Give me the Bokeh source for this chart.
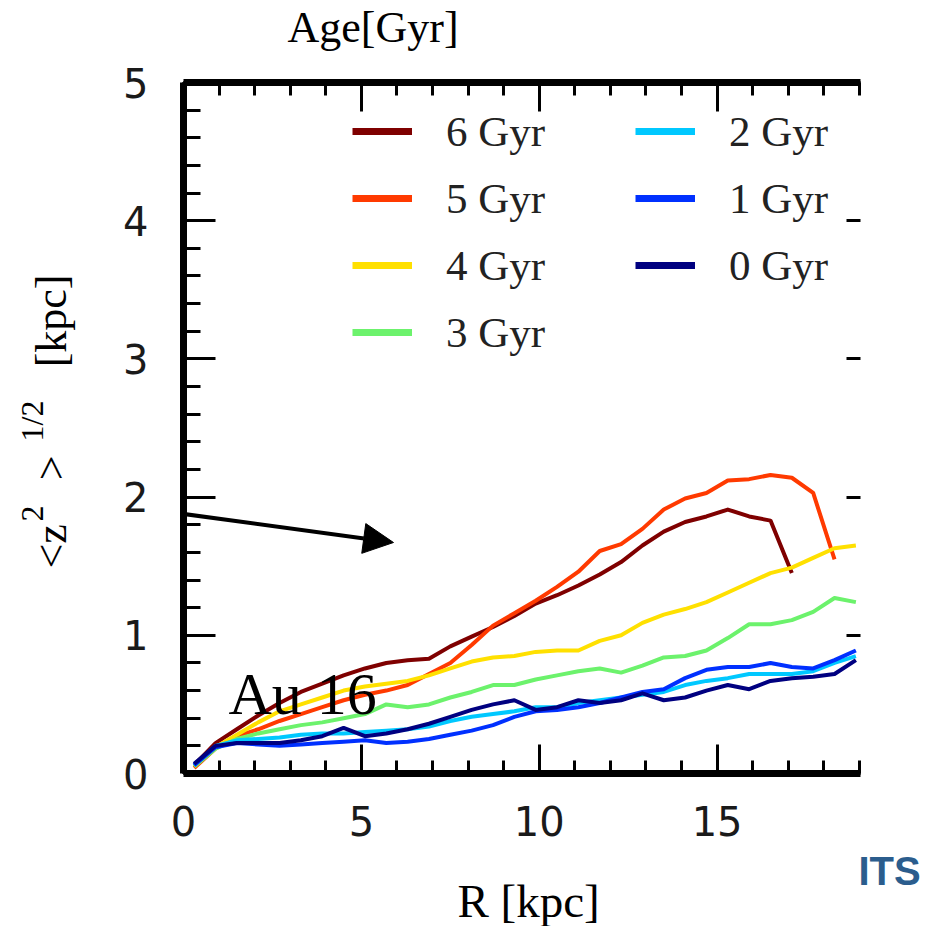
from bokeh.plotting import figure
from bokeh.models import (Range1d, LinearAxis, SingleIntervalTicker, Legend, LegendItem,
                          Label, Arrow, NormalHead, CustomLabelingPolicy)
from bokeh.embed import file_html
from bokeh.resources import INLINE
import math

# Radial bins [kpc]
radius = [0.3, 0.9, 1.5, 2.1, 2.7, 3.3, 3.9, 4.5, 5.1, 5.7, 6.3, 6.9, 7.5, 8.1, 8.7, 9.3,
          9.9, 10.5, 11.1, 11.7, 12.3, 12.9, 13.5, 14.1, 14.7, 15.3, 15.9, 16.5, 17.1,
          17.7, 18.3, 18.9]

# Vertical thickness <z^2>^(1/2) [kpc] per stellar age
z_6gyr = [0.06, 0.22, 0.32, 0.42, 0.51, 0.59, 0.65, 0.71, 0.76, 0.80, 0.82, 0.83, 0.92,
          0.99, 1.06, 1.14, 1.23, 1.29, 1.36, 1.44, 1.53, 1.65, 1.75, 1.82, 1.86, 1.91,
          1.86, 1.83, 1.45]
z_5gyr = [0.04, 0.18, 0.27, 0.32, 0.38, 0.43, 0.48, 0.53, 0.57, 0.60, 0.64, 0.72, 0.80,
          0.93, 1.07, 1.16, 1.25, 1.35, 1.46, 1.61, 1.66, 1.77, 1.91, 1.99, 2.03, 2.12,
          2.13, 2.16, 2.14, 2.03, 1.55]
z_4gyr = [0.05, 0.19, 0.28, 0.37, 0.45, 0.50, 0.55, 0.60, 0.63, 0.65, 0.67, 0.71, 0.76,
          0.81, 0.84, 0.85, 0.88, 0.89, 0.89, 0.96, 1.00, 1.09, 1.15, 1.19, 1.24, 1.31,
          1.38, 1.45, 1.49, 1.56, 1.63, 1.65]
z_3gyr = [0.05, 0.18, 0.25, 0.29, 0.32, 0.35, 0.37, 0.40, 0.43, 0.50, 0.48, 0.50, 0.55,
          0.59, 0.64, 0.64, 0.68, 0.71, 0.74, 0.76, 0.73, 0.78, 0.84, 0.85, 0.89, 0.98,
          1.08, 1.08, 1.11, 1.17, 1.27, 1.24]
z_2gyr = [0.06, 0.20, 0.24, 0.25, 0.26, 0.28, 0.29, 0.29, 0.30, 0.31, 0.32, 0.34, 0.38,
          0.41, 0.43, 0.45, 0.48, 0.48, 0.51, 0.53, 0.55, 0.57, 0.59, 0.64, 0.67, 0.69,
          0.72, 0.72, 0.72, 0.74, 0.80, 0.85]
z_1gyr = [0.06, 0.19, 0.22, 0.21, 0.20, 0.21, 0.22, 0.23, 0.24, 0.22, 0.23, 0.25, 0.28,
          0.31, 0.35, 0.41, 0.45, 0.46, 0.48, 0.51, 0.55, 0.59, 0.61, 0.69, 0.75, 0.77,
          0.77, 0.80, 0.77, 0.76, 0.82, 0.89]
z_0gyr = [0.07, 0.20, 0.22, 0.22, 0.22, 0.24, 0.27, 0.33, 0.27, 0.29, 0.32, 0.36, 0.41,
          0.46, 0.50, 0.53, 0.46, 0.48, 0.53, 0.51, 0.53, 0.58, 0.53, 0.55, 0.60, 0.64,
          0.61, 0.67, 0.69, 0.70, 0.72, 0.82]

labels = ["6 Gyr", "5 Gyr", "4 Gyr", "3 Gyr", "2 Gyr", "1 Gyr", "0 Gyr"]
series = [z_6gyr, z_5gyr, z_4gyr, z_3gyr, z_2gyr, z_1gyr, z_0gyr]
colors = ["#7f0000", "#ff3a00", "#ffe000", "#6cf26c", "#00c8ff", "#0030ff", "#000080"]

x_ticks_major = 5
y_ticks_major = 1

# Canvas geometry (pixels)
W, H = 944, 926
LEFT, RIGHT, TOP, BOTTOM = 183, 84, 82, 153
X_END, Y_END = 19.03, 5.0

SERIF = "Liberation Serif"
SANS = "DejaVu Sans"
NB = "\u00a0"  # non-collapsing space

p = figure(width=W, height=H, output_backend="svg", toolbar_location=None,
           x_range=Range1d(0, X_END), y_range=Range1d(0, Y_END),
           min_border_left=LEFT, min_border_right=RIGHT,
           min_border_top=TOP, min_border_bottom=BOTTOM,
           x_axis_location=None, y_axis_location=None)
p.title = None
p.outline_line_color = None
p.grid.visible = False
p.background_fill_color = "white"
p.border_fill_color = "white"

no_labels = CustomLabelingPolicy(
    code="for (const i of Array.from(indices)) { indices.unset(i) }\nreturn indices")


def make_axis(ticker, tick_in, minor_in, labels_on, line_on=True):
    ax = LinearAxis(ticker=ticker)
    ax.axis_line_width = 7 if line_on else 0
    ax.axis_line_color = "black" if line_on else None
    ax.major_tick_in = tick_in
    ax.major_tick_out = 0
    ax.minor_tick_in = minor_in
    ax.minor_tick_out = 0
    ax.major_tick_line_width = 3
    ax.minor_tick_line_width = 3
    ax.major_tick_line_color = "black"
    ax.minor_tick_line_color = "black" if minor_in else None
    if labels_on:
        ax.major_label_text_font = SANS
        ax.major_label_text_font_size = "40px"
        ax.major_label_text_color = "#1a1a1a"
    else:
        ax.major_label_text_font_size = "0px"
        ax.major_label_standoff = 0
        ax.major_label_policy = no_labels
    return ax


xt = lambda: SingleIntervalTicker(interval=x_ticks_major, num_minor_ticks=5)
yt = lambda: SingleIntervalTicker(interval=y_ticks_major, num_minor_ticks=5)

bottom = make_axis(xt(), 29, 13, True)
bottom.major_label_standoff = 32
p.add_layout(bottom, "below")

top = make_axis(xt(), 29, 13, False)
p.add_layout(top, "above")

left = make_axis(yt(), 32, 17, True)
left.major_label_standoff = 35
p.add_layout(left, "left")

right = make_axis(SingleIntervalTicker(interval=y_ticks_major, num_minor_ticks=0),
                  14, 0, False, line_on=False)
p.add_layout(right, "right")

# Profiles, oldest first
for zs, c in zip(series, colors):
    p.line(radius[:len(zs)], zs, line_width=4, line_color=c, line_join="round")

# Legend swatches (thicker than the profiles)
nan = float("nan")
proxies = [p.line(x=[nan], y=[nan], line_width=7, line_color=c) for c in colors]


def make_legend(idx, loc):
    leg = Legend(items=[LegendItem(label=labels[i], renderers=[proxies[i]]) for i in idx],
                 location=loc, orientation="vertical")
    leg.border_line_color = None
    leg.background_fill_alpha = 0
    leg.padding = 0
    leg.margin = 0
    leg.glyph_width = 60
    leg.glyph_height = 50
    leg.label_height = 50
    leg.spacing = 17
    leg.label_standoff = 34
    leg.label_text_font = SERIF
    leg.label_text_font_size = "43px"
    leg.label_text_color = "#222222"
    return leg


p.add_layout(make_legend([0, 1, 2, 3], (352 - LEFT, H - BOTTOM - 357)))
p.add_layout(make_legend([4, 5, 6], (635 - LEFT, H - BOTTOM - 290)))


def text(t, px, py, size, panel="center", font=SERIF, angle=0.0, color="black",
         style="normal"):
    """Text anchored at canvas pixel position (px, py)."""
    p.add_layout(Label(x=px, y=py, x_units="canvas", y_units="canvas", text=t,
                       text_font=font, text_font_size=f"{size}px", text_color=color,
                       text_font_style=style, angle=angle,
                       text_align="left", text_baseline="alphabetic"), panel)


text("Au 16", 228, 693, 60)
text("Age[Gyr]", 287, 27, 44, panel="above")
text("R [kpc]", 457, 900, 47, panel="below")
text("ITS", 858, 870, 40, panel="right", font="Liberation Sans", color="#2b5d8d",
     style="bold")

# y-axis title: main line plus a raised line for the exponents
up = math.pi / 2
text("<z" + NB * 4 + ">" + NB * 8 + "[kpc]", 51, 568, 44, panel="left", angle=up)
text("2" + NB * 8 + "1/2", 31, 521, 32, panel="left", angle=up)

# Pointer arrow
p.add_layout(Arrow(end=NormalHead(size=30, fill_color="black", line_color="black"),
                   start_units="canvas", end_units="canvas",
                   x_start=-4, y_start=488, x_end=393, y_end=542,
                   line_width=4, line_color="black"))

open("out.html", "w").write(file_html(p, INLINE))
